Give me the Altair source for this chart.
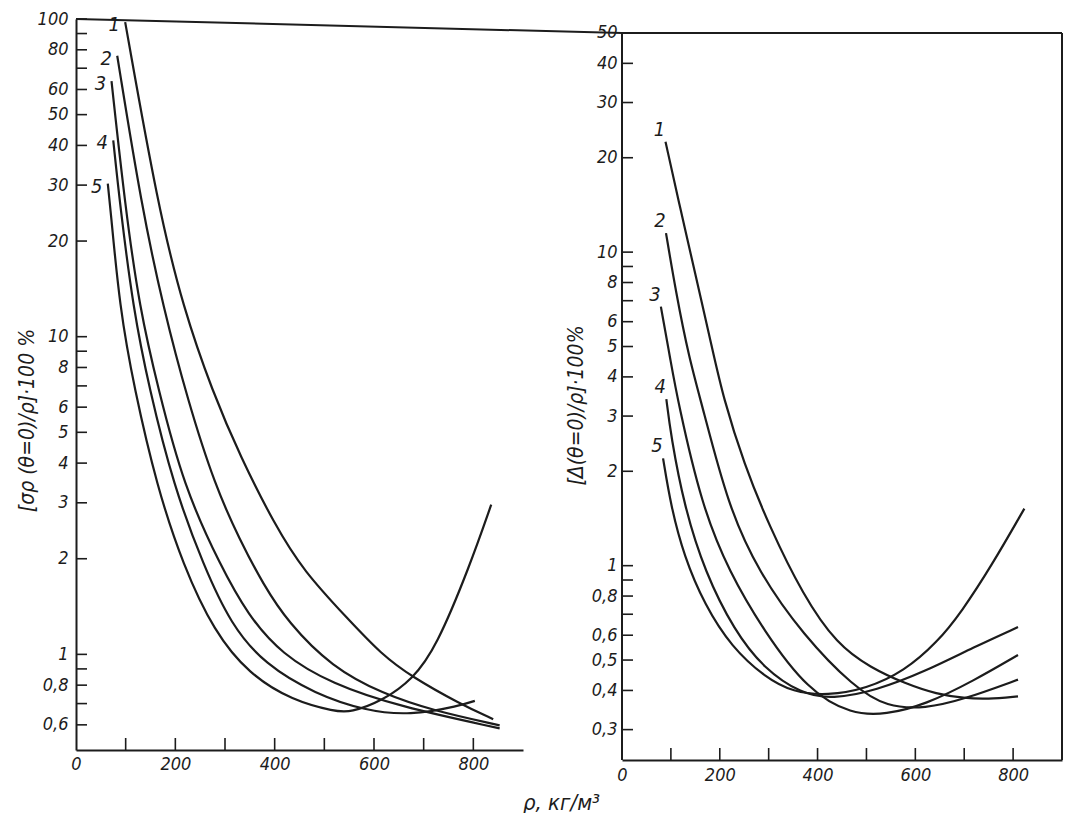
import altair as alt
import pandas as pd

# ---------------- data ----------------
CURVE_NAMES = ["1", "2", "3", "4", "5"]

# left panel: [sigma_rho(theta=0)/rho]*100 %
L1_X = [99, 165, 216, 275, 331, 400, 458, 548, 615, 676, 772, 840]
L1_Y = [97.8, 25.7, 12.3, 6.7, 4.19, 2.56, 1.83, 1.29, 1.0, 0.85, 0.70, 0.625]
L2_X = [83, 132, 176, 225, 280, 330, 377, 427, 515, 617, 719, 853]
L2_Y = [76.6, 25.7, 12.3, 6.3, 3.39, 2.29, 1.66, 1.26, 0.912, 0.752, 0.665, 0.598]
L3_X = [71.5, 99, 128, 165, 217, 291, 346, 414, 515, 651, 853]
L3_Y = [63.7, 25.7, 12.3, 6.9, 3.37, 1.90, 1.33, 1.0, 0.807, 0.685, 0.585]
L4_X = [75, 89, 115, 147, 197, 257, 312, 380, 482, 583, 672, 773, 803]
L4_Y = [41.5, 25.7, 12.3, 6.9, 3.37, 1.90, 1.24, 0.93, 0.75, 0.665, 0.642, 0.689, 0.714]
L5_X = [64, 69, 88, 117, 163, 216, 278, 348, 436, 522, 552, 618, 678, 725, 793, 836]
L5_Y = [30.3, 25.7, 12.3, 6.9, 3.37, 1.90, 1.18, 0.867, 0.715, 0.661, 0.656, 0.715, 0.836, 1.05, 1.90, 2.96]

# right panel: [Delta(theta=0)/rho]*100 %
R1_X = [89, 120, 149, 185, 207, 250, 300, 371, 440, 508, 580, 644, 700, 747, 810]
R1_Y = [22.5, 13.6, 8.65, 4.9, 3.44, 2.1, 1.35, 0.80, 0.56, 0.473, 0.42, 0.389, 0.378, 0.375, 0.383]
R2_X = [90, 110, 137, 165, 217, 280, 371, 474, 542, 620, 700, 810]
R2_Y = [11.5, 7.5, 4.6, 3.2, 1.55, 0.95, 0.6, 0.41, 0.354, 0.35, 0.375, 0.433]
R3_X = [79.5, 100, 114, 163, 220, 290, 380, 470, 540, 620, 720, 810]
R3_Y = [6.7, 4.45, 3.36, 1.55, 0.95, 0.62, 0.40, 0.335, 0.335, 0.36, 0.43, 0.519]
R4_X = [90.7, 100, 127, 170, 230, 290, 367, 430, 520, 620, 720, 810]
R4_Y = [3.4, 2.6, 1.55, 0.95, 0.62, 0.47, 0.39, 0.375, 0.40, 0.46, 0.55, 0.637]
R5_X = [84, 100, 127, 169, 224, 293, 350, 420, 500, 577, 645, 694, 756, 823]
R5_Y = [2.2, 1.55, 1.07, 0.75, 0.55, 0.44, 0.395, 0.385, 0.405, 0.46, 0.57, 0.71, 1.0, 1.52]

X_DOMAIN = [0, 900]
X_LABELS = [0, 200, 400, 600, 800]
X_TICKS = [100, 200, 300, 400, 500, 600, 700, 800]

LEFT_Y_DOMAIN = [0.5, 100]
LEFT_Y_LABELS = [100, 80, 60, 50, 40, 30, 20, 10, 8, 6, 5, 4, 3, 2, 1, 0.8, 0.6]
LEFT_Y_TICKS = [100, 90, 80, 70, 60, 50, 40, 30, 20, 10, 9, 8, 7, 6, 5, 4, 3, 2, 1, 0.9, 0.8, 0.7, 0.6]

RIGHT_Y_DOMAIN = [0.24, 55.4]
RIGHT_Y_LABELS = [50, 40, 30, 20, 10, 8, 6, 5, 4, 3, 2, 1, 0.8, 0.6, 0.5, 0.4, 0.3]
RIGHT_Y_TICKS = [50, 40, 30, 20, 10, 9, 8, 7, 6, 5, 4, 3, 2, 1, 0.9, 0.8, 0.7, 0.6, 0.5, 0.4, 0.3]

LEFT_TITLE = "[σρ (θ=0)/ρ]·100 %"
RIGHT_TITLE = "[Δ(θ=0)/ρ]·100%"
X_TITLE = "ρ, кг/м³"

# ---------------- styling ----------------
INK = "#1c1c1c"
FONT = "DejaVu Sans Condensed, Liberation Sans Narrow, DejaVu Sans"
LW, LH = 447, 731
RW, RH = 440, 741
SPACING = 99
RIGHT_DROP = 14
LABEL_EXPR = "replace(format(datum.value, '~g'), '.', ',')"


def build_df(xs_list, ys_list):
    rows = []
    for name, xs, ys in zip(CURVE_NAMES, xs_list, ys_list):
        for i, (x, y) in enumerate(zip(xs, ys)):
            rows.append({"curve": name, "x": x, "y": y, "i": i})
    return pd.DataFrame(rows)


def panel(df, W, H, ydom, ylabels, yticks, ytitle, ytx, yty, ylabpad, xlabpad,
          lab_dx, lab_dy, framed, xtitle=None, xtx=0, xty=0):
    xs = alt.Scale(domain=X_DOMAIN, nice=False, zero=False)
    ys = alt.Scale(type="log", domain=ydom, nice=False)

    x_axis_kw = dict(values=X_LABELS, ticks=False, tickSize=0, grid=False,
                     labelPadding=xlabpad, labelFlush=False, labelOverlap=False)
    if xtitle is not None:
        x_axis_kw.update(title=xtitle, titleX=xtx, titleY=xty, titleFontSize=22,
                         titleAlign="center", titleBaseline="middle")
    else:
        x_axis_kw.update(title=None)
    x_axis = alt.Axis(**x_axis_kw)

    y_axis = alt.Axis(values=ylabels, ticks=False, tickSize=0, grid=False,
                      domain=not framed, labelExpr=LABEL_EXPR,
                      labelPadding=ylabpad, labelOverlap=False, labelFlush=False,
                      title=ytitle, titleX=ytx, titleY=yty, titleAngle=270,
                      titleAlign="center", titleBaseline="middle")

    X = lambda f: alt.X(f, scale=xs, axis=x_axis)
    Y = lambda f: alt.Y(f, scale=ys, axis=y_axis)

    base = alt.Chart(df)
    lines = base.mark_line(color=INK, strokeWidth=2.2, interpolate="basis").encode(
        x=X("x:Q"), y=Y("y:Q"), detail="curve:N", order="i:Q",
    )
    labels = base.transform_filter("datum.i == 0").mark_text(
        font=FONT, fontStyle="italic", fontSize=20, color=INK,
        dx=lab_dx, dy=lab_dy, align="center", baseline="middle",
    ).encode(x=X("x:Q"), y=Y("y:Q"), text="curve:N")

    ytk = alt.Chart(pd.DataFrame({"y": yticks})).mark_rule(
        color=INK, strokeWidth=1.6).encode(
        y=Y("y:Q"), x=alt.value(0), x2=alt.value(11))
    xtk = alt.Chart(pd.DataFrame({"x": X_TICKS})).mark_rule(
        color=INK, strokeWidth=1.6).encode(
        x=X("x:Q"), y=alt.value(H), y2=alt.value(H - 12))

    layers = [lines, labels, ytk, xtk]
    top = pd.DataFrame({"y": [ylabels[0]]})
    if framed:
        frame_top = alt.Chart(top).mark_rule(color=INK, strokeWidth=2).encode(
            y=Y("y:Q"), x=alt.value(0), x2=alt.value(W))
        frame_left = alt.Chart(top).mark_rule(color=INK, strokeWidth=2).encode(
            y=Y("y:Q"), y2=alt.value(H), x=alt.value(0))
        frame_right = alt.Chart(top).mark_rule(color=INK, strokeWidth=2).encode(
            y=Y("y:Q"), y2=alt.value(H), x=alt.value(W))
        layers += [frame_top, frame_left, frame_right]
    else:
        # page frame line running from this panel's top to the next panel's top
        frame_top = alt.Chart(top).mark_rule(color=INK, strokeWidth=2).encode(
            x=alt.value(0), x2=alt.value(W + SPACING),
            y=alt.value(0), y2=alt.value(RIGHT_DROP))
        layers.append(frame_top)

    return alt.layer(*layers).properties(width=W, height=H)


left_df = build_df([L1_X, L2_X, L3_X, L4_X, L5_X], [L1_Y, L2_Y, L3_Y, L4_Y, L5_Y])
right_df = build_df([R1_X, R2_X, R3_X, R4_X, R5_X], [R1_Y, R2_Y, R3_Y, R4_Y, R5_Y])

left = panel(left_df, LW, LH, LEFT_Y_DOMAIN, LEFT_Y_LABELS, LEFT_Y_TICKS,
             LEFT_TITLE, -49, 401, 8, 5, -11, 3, False,
             xtitle=X_TITLE, xtx=485, xty=52)
right = panel(right_df, RW, RH, RIGHT_Y_DOMAIN, RIGHT_Y_LABELS, RIGHT_Y_TICKS,
              RIGHT_TITLE, -46, 386, 5, 6, -6, -12, True)

chart = alt.hconcat(left, right, spacing=SPACING, bounds="flush").properties(
    background="white",
    padding={"left": 8, "top": 2, "right": 4, "bottom": 0},
).configure_view(stroke=None).configure_axis(
    domainColor=INK, domainWidth=2,
    labelFont=FONT, labelFontSize=18, labelFontStyle="italic", labelColor=INK,
    titleFont=FONT, titleFontSize=21, titleFontStyle="italic",
    titleFontWeight="normal", titleColor=INK,
)

chart.save("out.html", embed_options={"renderer": "svg", "actions": False})
